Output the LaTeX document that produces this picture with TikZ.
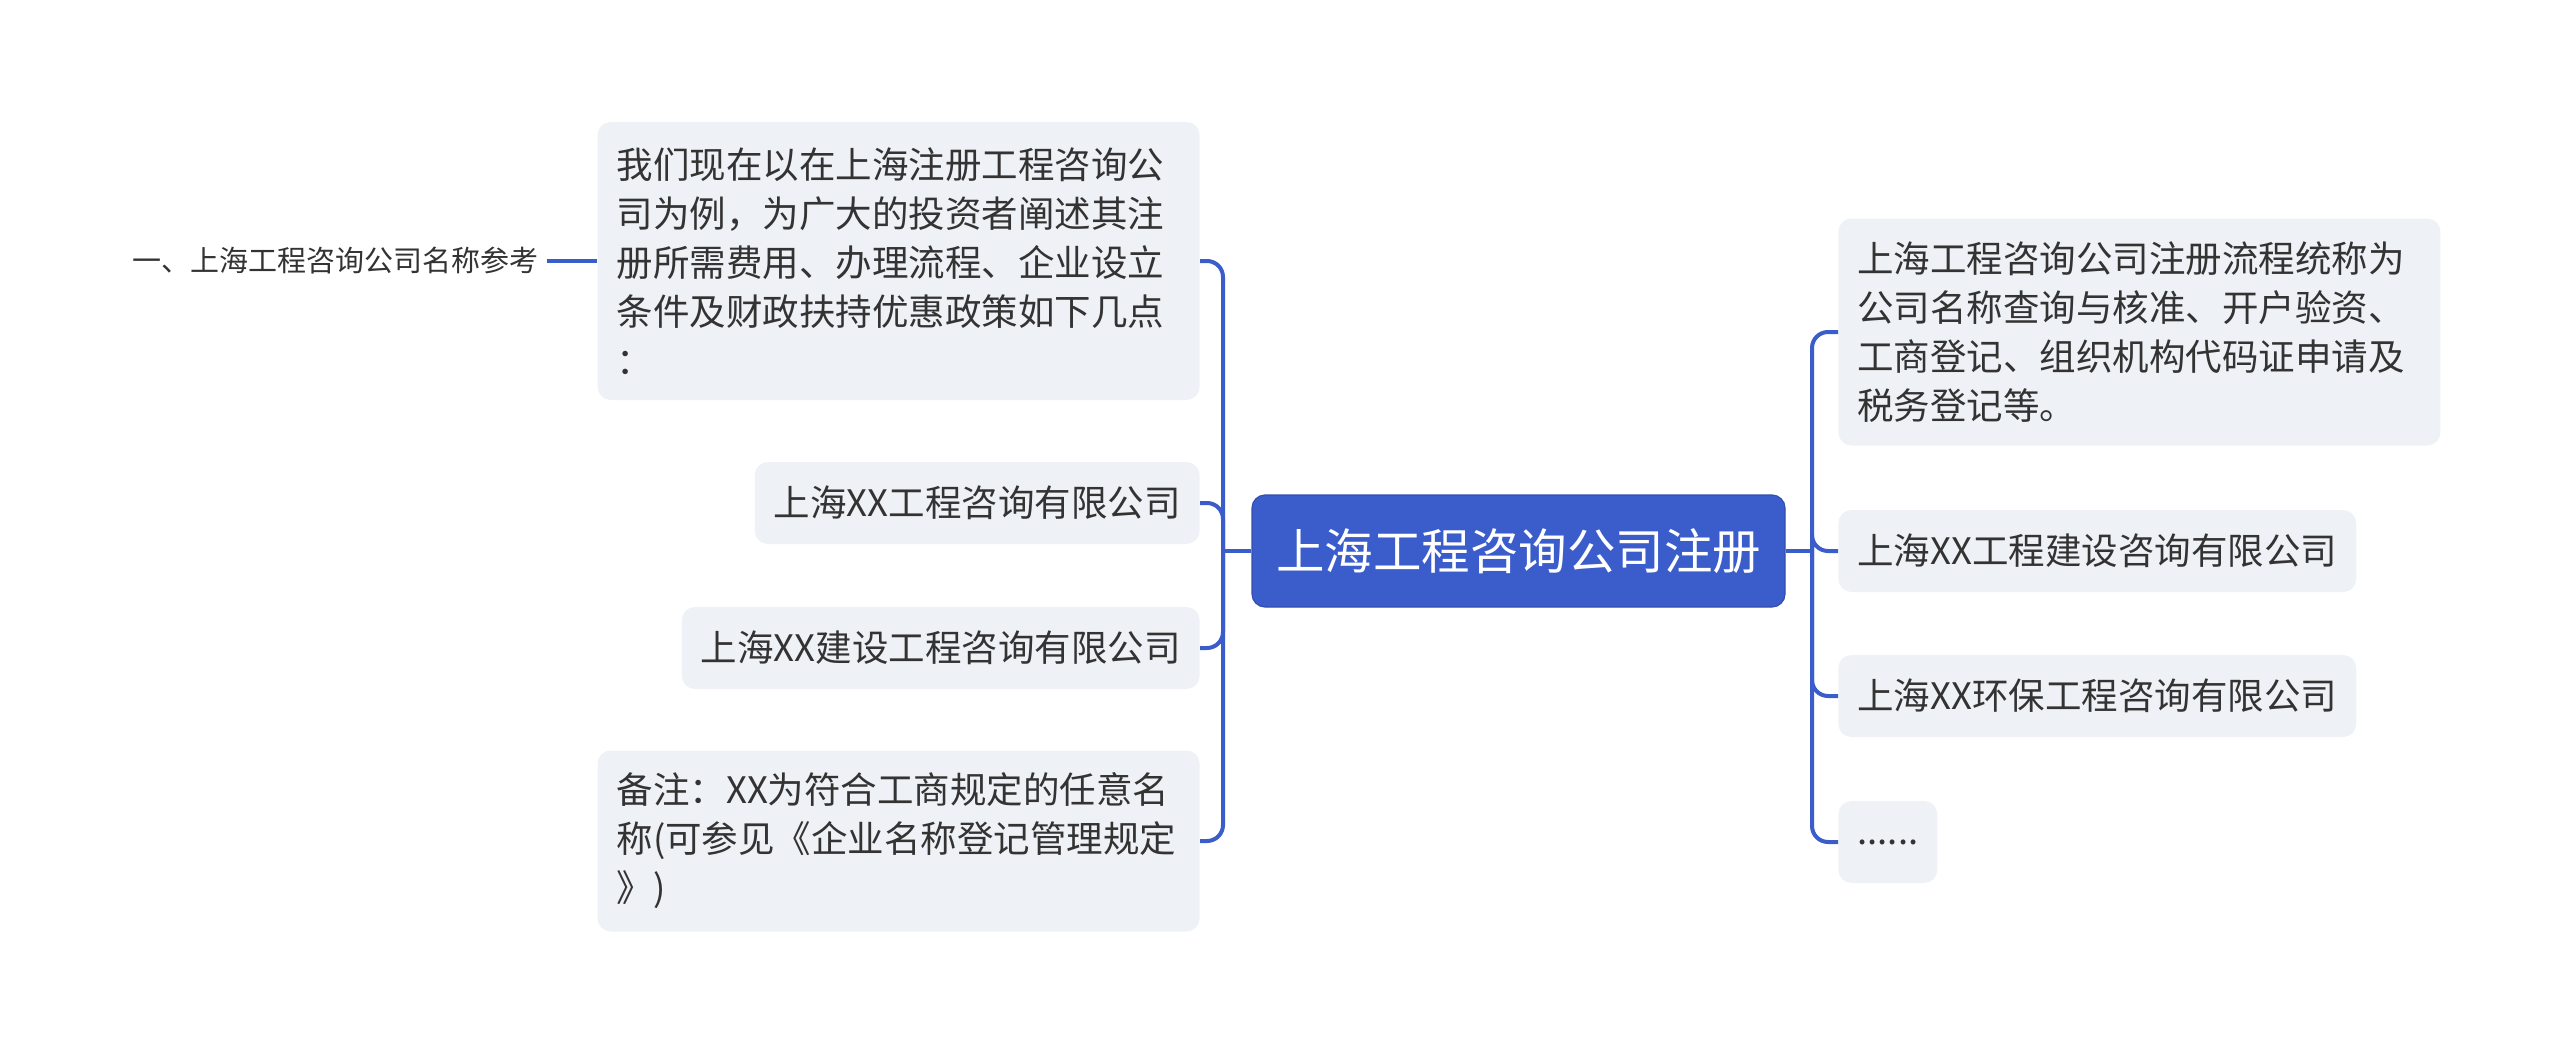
\documentclass[tikz,border=0pt]{standalone}
\usepackage{fontspec}
\setmainfont{Noto Sans CJK SC}
\usetikzlibrary{positioning}
\definecolor{mapblue}{HTML}{3B5DCC}
\definecolor{leafgray}{HTML}{EEF1F5}
\definecolor{inkgray}{HTML}{333333}

\begin{document}
\begin{tikzpicture}[%
    x=0.5pt, y=-0.5pt,          % work on the pixel grid of the page
    link/.style={draw=mapblue, line width=2pt, rounded corners=8pt},
    ]
% -------------------------------------------------
% Box styles
\tikzset{
  base/.style={inner xsep=9.5pt, inner ysep=0pt, rounded corners=6.5pt, text=inkgray},
  topic/.style={base, fill=mapblue, draw=mapblue!85!black, line width=0.6pt, text=white,
    minimum width=266.5pt, minimum height=56pt, font=\fontsize{24.25}{30}\selectfont},
  leaf/.style={base, fill=leafgray, minimum height=41pt, font=\fontsize{18.25}{24.5}\selectfont},
  note/.style={leaf, text width=282pt, align=left},
  tag/.style={inner xsep=4pt, text=inkgray, font=\fontsize{14.5}{17}\selectfont},
}
\useasboundingbox (0,0) rectangle (2560,1054);
% -------------------------------------------------
% Centre topic
\node [topic] (root) at (1518.5,551) {上海工程咨询公司注册};

% Left branch
\node [note, anchor=east, minimum height=139pt] (l1) at (1200,261)
  {我们现在以在上海注册工程咨询公\\司为例，为广大的投资者阐述其注\\册所需费用、办理流程、企业设立\\条件及财政扶持优惠政策如下几点\\：};
\node [leaf, anchor=east] (l2) at (1200,503) {上海XX工程咨询有限公司};
\node [leaf, anchor=east] (l3) at (1200,648) {上海XX建设工程咨询有限公司};
\node [note, anchor=east, minimum height=90.5pt] (l4) at (1200,841)
  {备注：XX为符合工商规定的任意名\\称(可参见《企业名称登记管理规定\\》)};
\node [tag, anchor=east] (l1a) at (547,261) {一、上海工程咨询公司名称参考};

% Right branch
\node [note, anchor=west, minimum height=113.5pt] (r1) at (1838,332)
  {上海工程咨询公司注册流程统称为\\公司名称查询与核准、开户验资、\\工商登记、组织机构代码证申请及\\税务登记等。};
\node [leaf, anchor=west] (r2) at (1838,551) {上海XX工程建设咨询有限公司};
\node [leaf, anchor=west] (r3) at (1838,696) {上海XX环保工程咨询有限公司};
\node [leaf, anchor=west] (r4) at (1838,842) {......};

% -------------------------------------------------
% Connectors
\coordinate (lj) at (1223,551);
\coordinate (rj) at (1812,551);
\draw [link] (root.west) -- (lj);
\foreach \n in {l1,l2,l3,l4}
  \draw [link] (lj) |- (\n.east);
\draw [link] (root.east) -- (rj);
\foreach \n in {r1,r2,r3,r4}
  \draw [link] (rj) |- (\n.west);
\draw [link] (l1.west) -- (l1a.east);
% -------------------------------------------------
\end{tikzpicture}
\end{document}
